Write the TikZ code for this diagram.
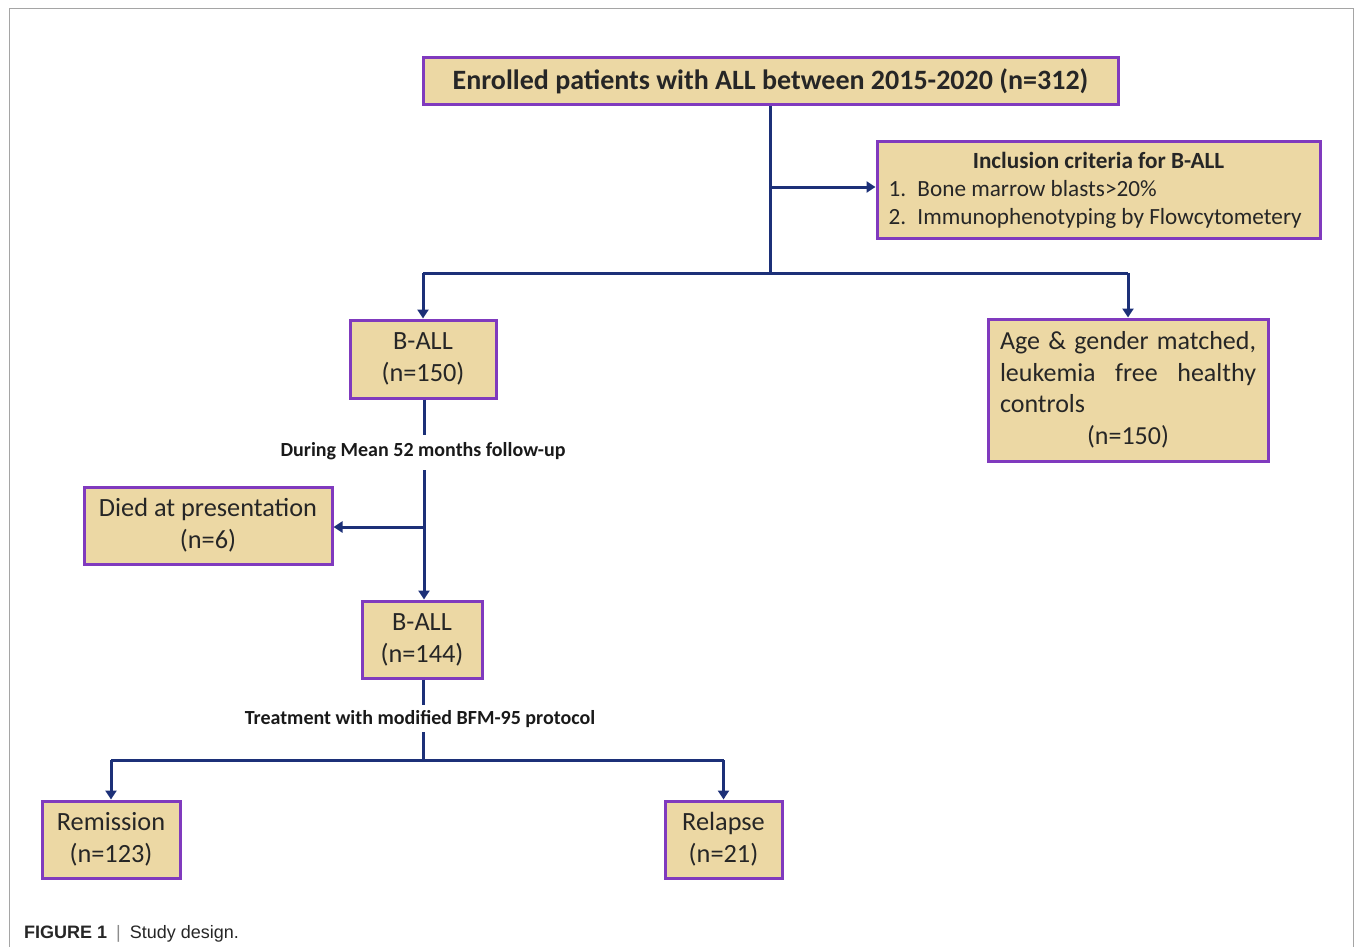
\documentclass[tikz,border=0pt]{standalone}
\usepackage{fontspec}
\setmainfont{Carlito}
\newfontfamily\capfont{Liberation Sans}
\usetikzlibrary{arrows.meta}
\definecolor{boxfill}{RGB}{236,216,164}
\definecolor{boxdraw}{RGB}{128,58,190}
\definecolor{linkc}{RGB}{28,48,120}
\definecolor{framec}{RGB}{165,165,165}
\tikzset{
  box/.style={draw=boxdraw, line width=3pt, fill=boxfill, inner sep=0pt, align=center,
    font=\fontsize{26.3}{32}\selectfont, text=black!85},
  link/.style={draw=linkc, line width=3pt},
  arr/.style={link, -{Triangle[length=9pt,width=11pt]}},
  lab/.style={font=\bfseries\fontsize{20}{22}\selectfont, inner sep=0pt, text=black!90}
}
\begin{document}
\begin{tikzpicture}[x=1pt,y=-1pt]
\useasboundingbox (0,0) rectangle (1355,947);
% frame
\draw[framec, line width=1.6pt] (9.5,947) -- (9.5,8.5) -- (1353.5,8.5) -- (1353.5,947);
% boxes
\node[box, minimum width=695pt, minimum height=47pt, font=\bfseries\fontsize{28}{30}\selectfont] (top) at (770.5,81.5) {Enrolled patients with ALL between 2015-2020 (n=312)};
\node[box, minimum width=443pt, minimum height=97pt, align=left, font=\fontsize{23.2}{28}\selectfont] (incl) at (1098.5,190)
  {\makebox[420pt]{\bfseries Inclusion criteria for B-ALL}\\
   \makebox[29pt][l]{1.}Bone marrow blasts>20\%\\
   \makebox[29pt][l]{2.}Immunophenotyping by Flowcytometery};
\node[box, minimum width=146pt, minimum height=78pt] (ball) at (423,359) {B-ALL\\(n=150)};
\node[box, minimum width=280pt, minimum height=142pt, align=left, font=\fontsize{26}{31.5}\selectfont] (ctrl) at (1128,390)
  {\makebox[256pt][s]{Age \& gender matched,}\\
   \makebox[256pt][s]{leukemia free healthy}\\
   controls\\
   \makebox[256pt]{(n=150)}};
\node[box, minimum width=248pt, minimum height=77pt] (died) at (208,525.5) {Died at presentation\\(n=6)};
\node[box, minimum width=120pt, minimum height=77pt] (b144) at (422,639.5) {B-ALL\\(n=144)};
\node[box, minimum width=138pt, minimum height=77pt] (rem) at (111,839.5) {Remission\\(n=123)};
\node[box, minimum width=117pt, minimum height=77pt] (rel) at (723.5,839.5) {Relapse\\(n=21)};
% labels
\node[lab] (lab1) at (423,451) {During Mean 52 months follow-up};
\node[lab] (lab2) at (420,719) {Treatment with modified BFM-95 protocol};
% junction coordinates
\coordinate (j1) at (770,187);
\coordinate (j2) at (770,273);
\coordinate (g1a) at (424,435);
\coordinate (g1b) at (424,470);
\coordinate (j3) at (424,527);
\coordinate (g2a) at (423,705);
\coordinate (g2b) at (423,732);
\coordinate (j4) at (423,760);
% connectors
\draw[link] (top.south -| j2) -- (j2);
\draw[arr] (j1) -- (j1 -| incl.west);
\draw[link] (ball.north |- j2) -- (ctrl.north |- j2);
\draw[arr] (ball.north |- j2) -- (ball.north);
\draw[arr] (ctrl.north |- j2) -- (ctrl.north);
\draw[link] (ball.south -| g1a) -- (g1a);
\draw[arr] (g1b) -- (b144.north -| g1b);
\draw[arr] (j3) -- (j3 -| died.east);
\draw[link] (b144.south -| g2a) -- (g2a);
\draw[link] (g2b) -- (j4);
\draw[link] (rem.north |- j4) -- (rel.north |- j4);
\draw[arr] (rem.north |- j4) -- (rem.north);
\draw[arr] (rel.north |- j4) -- (rel.north);
% caption
\node[anchor=base west, inner sep=0pt, font=\capfont\fontsize{18}{20}\selectfont, text=black!85] (cap) at (24,938)
  {\textbf{FIGURE 1}\enspace{\color{black!45}|}\enspace Study design.};
\end{tikzpicture}
\end{document}
